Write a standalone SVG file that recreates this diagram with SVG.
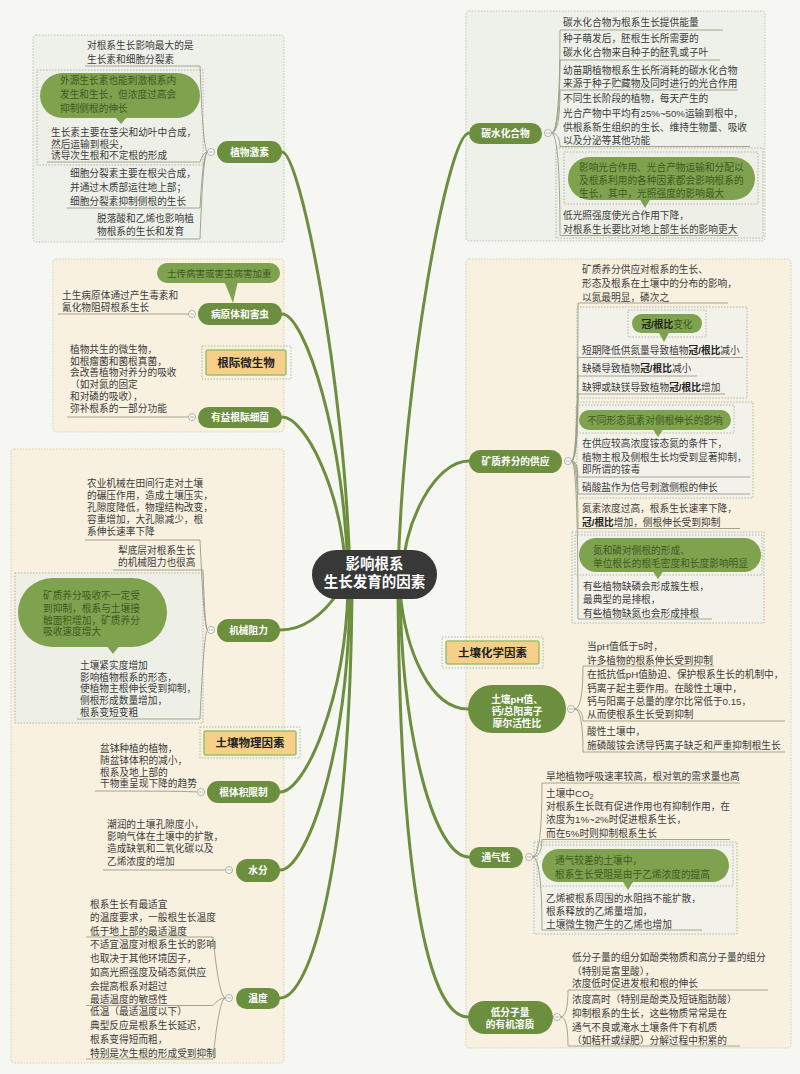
<svg xmlns="http://www.w3.org/2000/svg" width="800" height="1074" viewBox="0 0 800 1074">
<style>
text{font-family:"Liberation Sans","Noto Sans CJK SC",sans-serif}
.t{font-size:9.7px;fill:#3b3b3b}
.bt{font-size:9.7px;fill:#3e5a22}
.pt{font-size:9.7px;font-weight:bold;fill:#fff;text-anchor:middle}
.lb{font-size:11.5px;font-weight:bold;fill:#222;text-anchor:middle}
.ct{font-size:14.5px;font-weight:bold;fill:#fff;text-anchor:middle}
.b{font-weight:bold;fill:#222}
.pill{fill:#6c8f3f}
.bub{fill:#7ea24e}
.ul{stroke:#9a9c84;fill:none;stroke-width:0.9}
.con{stroke:#6c8f3f;stroke-width:3;fill:none;stroke-linecap:round}
.boxg{fill:#eef1ea;stroke:#b6bea9;stroke-width:0.9;stroke-dasharray:1.5 1.5}
.boxc{fill:#f8f1e0;stroke:#d3cba8;stroke-width:0.9;stroke-dasharray:1.5 1.5}
.inb{fill:#eef0e8;stroke:#aab19c;stroke-width:0.9;stroke-dasharray:1.5 1.5}
.inc{fill:#f3f2ea;stroke:#aab19c;stroke-width:0.9;stroke-dasharray:1.5 1.5}
.dot{fill:none;stroke:#a8b29a;stroke-width:0.9;stroke-dasharray:1.5 1.5}
.lbl{fill:#f6cf88;stroke:#9dc06e;stroke-width:1.5}
.cc{fill:#fff;stroke:#9a9a8a;stroke-width:0.8}
.cm{stroke:#9a9a8a;stroke-width:0.8}
</style>
<rect x="0" y="0" width="800" height="1074" fill="#f6f7f3"/>

<g id="regions">
<rect class="boxg" x="33" y="35" width="251" height="207" rx="3"/>
<rect class="boxc" x="53" y="259" width="231" height="173" rx="3"/>
<rect class="boxc" x="11" y="449" width="273" height="614" rx="3"/>
<rect class="boxg" x="466" y="11" width="299" height="230" rx="3"/>
<rect class="boxc" x="466" y="259" width="325" height="789" rx="3"/>
</g>

<g id="connectors">
<path class="con" d="M350,575 C345,380 300,152 282,152"/>
<path class="con" d="M348,575 C345,440 305,314 282,314"/>
<path class="con" d="M346,575 C342,490 305,417 282,417"/>
<path class="con" d="M340,590 C320,620 300,630 280,630"/>
<path class="con" d="M348,590 C345,700 305,792 280,792"/>
<path class="con" d="M350,590 C348,760 305,870 280,870"/>
<path class="con" d="M352,590 C350,870 310,998 280,998"/>
<path class="con" d="M398,575 C403,380 448,133 469,133"/>
<path class="con" d="M402,575 C405,520 435,461 469,461"/>
<path class="con" d="M400,590 C405,650 430,709 468,709"/>
<path class="con" d="M400,590 C402,740 435,857 469,857"/>
<path class="con" d="M398,590 C400,890 430,1017 468,1017"/>
</g>

<g id="n-center">
<rect x="312" y="550" width="125" height="49" rx="24.5" fill="#383838"/>
<text class="ct" x="374.5" y="569">影响根系</text>
<text class="ct" x="374.5" y="587">生长发育的因素</text>
</g>

<g id="n-hormone">
<rect class="inb" x="37" y="70" width="166" height="95"/>
<rect class="bub" x="40" y="73" width="160" height="45" rx="22.5"/>
<polygon class="bub" points="114,116 128,116 121,124"/>
<text class="bt" x="60" y="84">外源生长素也能刺激根系内</text>
<text class="bt" x="60" y="98">发生和生长，但浓度过高会</text>
<text class="bt" x="60" y="112">抑制侧根的伸长</text>
<text class="t" x="87" y="48.5">对根系生长影响最大的是</text>
<text class="t" x="87" y="62.5">生长素和细胞分裂素</text>
<text class="t" x="51" y="135.5">生长素主要在茎尖和幼叶中合成，</text>
<text class="t" x="51" y="147.5">然后运输到根尖，</text>
<text class="t" x="51" y="159">诱导次生根和不定根的形成</text>
<text class="t" x="70" y="177">细胞分裂素主要在根尖合成，</text>
<text class="t" x="70" y="191">并通过木质部运往地上部；</text>
<text class="t" x="70" y="205">细胞分裂素抑制侧根的生长</text>
<text class="t" x="97" y="222">脱落酸和乙烯也影响植</text>
<text class="t" x="97" y="235">物根系的生长和发育</text>
<path class="ul" d="M85,66 H200 Q203,152 207.5,152"/>
<path class="ul" d="M47,162 H200 Q203,152 207.5,152"/>
<path class="ul" d="M67,208 H200 Q203,152 207.5,152"/>
<path class="ul" d="M95,239 H200 Q203,152 207.5,152"/>
<circle class="cc" cx="211" cy="152" r="3.5"/><line class="cm" x1="209" y1="152" x2="213" y2="152"/>
<rect class="pill" x="217" y="141" width="65" height="22" rx="11"/>
<text class="pt" x="249.5" y="155.5">植物激素</text>
</g>

<g id="n-pest">
<rect class="bub" x="157" y="263" width="123" height="20" rx="10"/>
<polygon class="bub" points="224,281 238,281 233,303"/>
<text class="bt" x="167" y="276.5" style="font-size:9.5px">土传病害或害虫病害加重</text>
<text class="t" x="62" y="298.5">土生病原体通过产生毒素和</text>
<text class="t" x="62" y="310.5">氰化物阻碍根系生长</text>
<path class="ul" d="M58,314 H188.5"/>
<circle class="cc" cx="192" cy="314" r="3.5"/><line class="cm" x1="190" y1="314" x2="194" y2="314"/>
<rect class="pill" x="198" y="303" width="84" height="22" rx="11"/>
<text class="pt" x="240" y="317.5">病原体和害虫</text>
</g>

<g id="n-rhizo">
<rect class="dot" x="202" y="346" width="89" height="33"/>
<rect class="lbl" x="206" y="350" width="80" height="25" rx="2"/>
<text class="lb" x="246" y="366.5">根际微生物</text>
</g>

<g id="n-bacteria">
<text class="t" x="70" y="353">植物共生的微生物，</text>
<text class="t" x="70" y="364.5">如根瘤菌和菌根真菌，</text>
<text class="t" x="70" y="376">会改善植物对养分的吸收</text>
<text class="t" x="70" y="388">（如对氮的固定</text>
<text class="t" x="70" y="400">和对磷的吸收），</text>
<text class="t" x="70" y="411.5">弥补根系的一部分功能</text>
<path class="ul" d="M67,417 H188.5"/>
<circle class="cc" cx="192" cy="417" r="3.5"/><line class="cm" x1="190" y1="417" x2="194" y2="417"/>
<rect class="pill" x="198" y="407" width="84" height="21" rx="10.5"/>
<text class="pt" x="240" y="421">有益根际细菌</text>
</g>

<g id="n-mech">
<text class="t" x="87" y="487">农业机械在田间行走对土壤</text>
<text class="t" x="87" y="499">的碾压作用，造成土壤压实，</text>
<text class="t" x="87" y="510.5">孔隙度降低，物理结构改变，</text>
<text class="t" x="87" y="523">容重增加，大孔隙减少，根</text>
<text class="t" x="87" y="534.5">系伸长速率下降</text>
<text class="t" x="118" y="554">犁底层对根系生长</text>
<text class="t" x="118" y="565.5">的机械阻力也很高</text>
<rect class="inb" x="15" y="573" width="188" height="150"/>
<rect class="bub" x="18" y="578" width="149" height="69" rx="34.5"/>
<polygon class="bub" points="106,645 120,645 113,654"/>
<text class="bt" x="43" y="599">矿质养分吸收不一定受</text>
<text class="bt" x="43" y="612">到抑制，根系与土壤接</text>
<text class="bt" x="43" y="623.5">触面积增加，矿质养分</text>
<text class="bt" x="43" y="635">吸收速度增大</text>
<text class="t" x="80" y="669">土壤紧实度增加</text>
<text class="t" x="80" y="680.5">影响植物根系的形态，</text>
<text class="t" x="80" y="692">使植物主根伸长受到抑制，</text>
<text class="t" x="80" y="704">侧根形成数量增加，</text>
<text class="t" x="80" y="715.5">根系变短变粗</text>
<path class="ul" d="M85,540 H200 Q204,630 207.5,630"/>
<path class="ul" d="M113,570 H203 Q205,630 207.5,630"/>
<path class="ul" d="M77,719 H200 Q204,630 207.5,630"/>
<circle class="cc" cx="211" cy="630" r="3.5"/><line class="cm" x1="209" y1="630" x2="213" y2="630"/>
<rect class="pill" x="217" y="619" width="63" height="23" rx="11.5"/>
<text class="pt" x="248.5" y="634">机械阻力</text>
</g>

<g id="n-physical">
<rect class="dot" x="200" y="727" width="100" height="31"/>
<rect class="lbl" x="204" y="731" width="92" height="24" rx="2"/>
<text class="lb" x="250" y="747">土壤物理因素</text>
</g>

<g id="n-volume">
<text class="t" x="100" y="752">盆钵种植的植物，</text>
<text class="t" x="100" y="764">随盆钵体积的减小，</text>
<text class="t" x="100" y="775.5">根系及地上部的</text>
<text class="t" x="100" y="786.5">干物重呈现下降的趋势</text>
<path class="ul" d="M95,791 Q190,791 197.5,792"/>
<circle class="cc" cx="201" cy="792" r="3.5"/><line class="cm" x1="199" y1="792" x2="203" y2="792"/>
<rect class="pill" x="207" y="781" width="73" height="22" rx="11"/>
<text class="pt" x="243.5" y="795.5">根体积限制</text>
</g>

<g id="n-water">
<text class="t" x="107" y="828">潮润的土壤孔隙度小，</text>
<text class="t" x="107" y="840">影响气体在土壤中的扩散，</text>
<text class="t" x="107" y="852">造成缺氧和二氧化碳以及</text>
<text class="t" x="107" y="864.5">乙烯浓度的增加</text>
<path class="ul" d="M103,870 H225.5"/>
<circle class="cc" cx="229" cy="870" r="3.5"/><line class="cm" x1="227" y1="870" x2="231" y2="870"/>
<rect class="pill" x="236" y="859" width="44" height="23" rx="11.5"/>
<text class="pt" x="258" y="874">水分</text>
</g>

<g id="n-temp">
<text class="t" x="90" y="908">根系生长有最适宜</text>
<text class="t" x="90" y="921">的温度要求，一般根生长温度</text>
<text class="t" x="90" y="934.5">低于地上部的最适温度</text>
<text class="t" x="90" y="948">不适宜温度对根系生长的影响</text>
<text class="t" x="90" y="962">也取决于其他环境因子，</text>
<text class="t" x="90" y="975.5">如高光照强度及硝态氮供应</text>
<text class="t" x="90" y="989.5">会提高根系对超过</text>
<text class="t" x="90" y="1003">最适温度的敏感性</text>
<text class="t" x="90" y="1014.5">低温（最适温度以下）</text>
<text class="t" x="90" y="1029">典型反应是根系生长延迟，</text>
<text class="t" x="90" y="1043">根系变得短而粗，</text>
<text class="t" x="90" y="1056.5">特别是次生根的形成受到抑制</text>
<path class="ul" d="M86,937 H213 Q219,998 225.5,998"/>
<path class="ul" d="M86,1005.5 H213 Q219,998 225.5,998"/>
<path class="ul" d="M86,1059 H213 Q219,998 225.5,998"/>
<circle class="cc" cx="229" cy="998" r="3.5"/><line class="cm" x1="227" y1="998" x2="231" y2="998"/>
<rect class="pill" x="236" y="988" width="44" height="21" rx="10.5"/>
<text class="pt" x="258" y="1002">温度</text>
</g>

<g id="n-carb">
<text class="t" x="563" y="25.5">碳水化合物为根系生长提供能量</text>
<text class="t" x="563" y="42">种子萌发后，胚根生长所需要的</text>
<text class="t" x="563" y="56">碳水化合物来自种子的胚乳或子叶</text>
<text class="t" x="563" y="74">幼苗期植物根系生长所消耗的碳水化合物</text>
<text class="t" x="563" y="87">来源于种子贮藏物及同时进行的光合作用</text>
<text class="t" x="563" y="102">不同生长阶段的植物，每天产生的</text>
<text class="t" x="563" y="116.5">光合产物中平均有25%~50%运输到根中，</text>
<text class="t" x="563" y="130.5">供根系新生组织的生长、维持生物量、吸收</text>
<text class="t" x="563" y="144">以及分泌等其他功能</text>
<rect class="inb" x="556" y="148" width="207" height="90"/>
<rect class="dot" x="564" y="152" width="194" height="52"/>
<rect class="bub" x="568" y="157" width="187" height="43" rx="21.5"/>
<polygon class="bub" points="639,198 651,198 645,208"/>
<text class="bt" x="579" y="170.5">影响光合作用、光合产物运输和分配以</text>
<text class="bt" x="579" y="184">及根系利用的各种因素都会影响根系的</text>
<text class="bt" x="579" y="197">生长，其中，光照强度的影响最大</text>
<text class="t" x="563" y="219">低光照强度使光合作用下降，</text>
<text class="t" x="563" y="233">对根系生长要比对地上部生长的影响更大</text>
<path class="ul" d="M551.5,133 Q560,133 560,30 H723"/>
<path class="ul" d="M551.5,133 Q560,133 560,60 H720"/>
<path class="ul" d="M551.5,133 Q560,133 560,90 H738"/>
<path class="ul" d="M551.5,133 Q560,133 560,146.5 H750"/>
<path class="ul" d="M551.5,133 Q560,133 560,235.5 H738"/>
<circle class="cc" cx="548" cy="133" r="3.5"/><line class="cm" x1="546" y1="133" x2="550" y2="133"/>
<rect class="pill" x="469" y="123" width="73" height="21" rx="10.5"/>
<text class="pt" x="505.5" y="137">碳水化合物</text>
</g>

<g id="n-mineral">
<text class="t" x="582" y="273">矿质养分供应对根系的生长、</text>
<text class="t" x="582" y="287">形态及根系在土壤中的分布的影响，</text>
<text class="t" x="582" y="300.5">以氮最明显，磷次之</text>
<rect class="inc" x="577" y="307" width="170" height="91"/>
<rect class="dot" x="628" y="310" width="78" height="27"/>
<rect class="bub" x="632" y="314" width="70" height="19" rx="9.5"/>
<polygon class="bub" points="658,331 670,331 664,342"/>
<text class="bt" x="667" y="327.5" text-anchor="middle"><tspan class="b">冠/根比</tspan>变化</text>
<text class="t" x="582" y="354">短期降低供氮量导致植物<tspan class="b">冠/根比</tspan>减小</text>
<text class="t" x="582" y="372">缺磷导致植物<tspan class="b">冠/根比</tspan>减小</text>
<text class="t" x="582" y="390.5">缺钾或缺镁导致植物<tspan class="b">冠/根比</tspan>增加</text>
<rect class="inc" x="577" y="402" width="176" height="96"/>
<rect class="dot" x="576" y="405" width="158" height="28"/>
<rect class="bub" x="579" y="410" width="152" height="20" rx="10"/>
<polygon class="bub" points="652,428 664,428 658,437"/>
<text class="bt" x="655" y="423.5" text-anchor="middle">不同形态氮素对侧根伸长的影响</text>
<text class="t" x="582" y="446.5">在供应较高浓度铵态氮的条件下，</text>
<text class="t" x="582" y="460.5">植物主根及侧根生长均受到显著抑制，</text>
<text class="t" x="582" y="473">即所谓的铵毒</text>
<text class="t" x="582" y="490.5">硝酸盐作为信号刺激侧根的伸长</text>
<text class="t" x="582" y="512">氮素浓度过高，根系生长速率下降，</text>
<text class="t" x="582" y="525.5"><tspan class="b">冠/根比</tspan>增加，侧根伸长受到抑制</text>
<rect class="inc" x="572" y="532" width="192" height="91"/>
<rect class="dot" x="575" y="535" width="187" height="40"/>
<rect class="bub" x="579" y="538" width="182" height="34" rx="17"/>
<polygon class="bub" points="652,570 664,570 658,579"/>
<text class="bt" x="593" y="554">氮和磷对侧根的形成、</text>
<text class="bt" x="593" y="567">单位根长的根毛密度和长度影响明显</text>
<text class="t" x="583" y="590">有些植物缺磷会形成簇生根，</text>
<text class="t" x="583" y="603">最典型的是排根，</text>
<text class="t" x="583" y="616.5">有些植物缺氮也会形成排根</text>
<path class="ul" d="M571.5,461 Q578,461 578,303 H728"/>
<path class="ul" d="M571.5,461 Q578,461 578,357.5 H743"/>
<path class="ul" d="M571.5,461 Q578,461 578,376 H697"/>
<path class="ul" d="M571.5,461 Q578,461 578,394 H725"/>
<path class="ul" d="M571.5,461 Q578,461 578,477 H750"/>
<path class="ul" d="M571.5,461 Q578,461 578,494 H750"/>
<path class="ul" d="M571.5,461 Q578,461 578,528.5 H740"/>
<path class="ul" d="M571.5,461 Q578,461 578,619 H712"/>
<circle class="cc" cx="568" cy="461" r="3.5"/><line class="cm" x1="566" y1="461" x2="570" y2="461"/>
<rect class="pill" x="469" y="450" width="93" height="23" rx="11.5"/>
<text class="pt" x="515.5" y="465">矿质养分的供应</text>
</g>

<g id="n-chemical">
<rect class="dot" x="442" y="637" width="101" height="31"/>
<rect class="lbl" x="446" y="641" width="93" height="23" rx="2"/>
<text class="lb" x="492.5" y="656.5">土壤化学因素</text>
</g>

<g id="n-ph">
<text class="t" x="587" y="650">当pH值低于5时，</text>
<text class="t" x="587" y="663.5">许多植物的根系伸长受到抑制</text>
<text class="t" x="587" y="678">在抵抗低pH值胁迫、保护根系生长的机制中，</text>
<text class="t" x="587" y="691.5">钙离子起主要作用。在酸性土壤中，</text>
<text class="t" x="587" y="705">钙与阳离子总量的摩尔比常低于0.15，</text>
<text class="t" x="587" y="718">从而使根系生长受到抑制</text>
<text class="t" x="587" y="735">酸性土壤中，</text>
<text class="t" x="587" y="749">施磷酸铵会诱导钙离子缺乏和严重抑制根生长</text>
<path class="ul" d="M574.5,709 Q583,709 583,666 H714"/>
<path class="ul" d="M574.5,709 Q583,709 583,721 H785"/>
<path class="ul" d="M574.5,709 Q583,709 583,752 H785"/>
<circle class="cc" cx="571" cy="709" r="3.5"/><line class="cm" x1="569" y1="709" x2="573" y2="709"/>
<rect class="pill" x="468" y="685" width="98" height="48" rx="24"/>
<text class="pt" x="517" y="702.5">土壤pH值、</text>
<text class="pt" x="517" y="714.5">钙/总阳离子</text>
<text class="pt" x="517" y="726.5">摩尔活性比</text>
</g>

<g id="n-air">
<text class="t" x="546" y="780">旱地植物呼吸速率较高，根对氧的需求量也高</text>
<text class="t" x="546" y="796.5">土壤中CO<tspan font-size="7" dy="2">2</tspan></text>
<text class="t" x="546" y="810">对根系生长既有促进作用也有抑制作用，在</text>
<text class="t" x="546" y="823">浓度为1%~2%时促进根系生长，</text>
<text class="t" x="546" y="836.5">而在5%时则抑制根系生长</text>
<rect class="inc" x="534" y="842" width="203" height="92"/>
<rect class="dot" x="537" y="845" width="196" height="41"/>
<rect class="bub" x="542" y="849" width="187" height="33" rx="16.5"/>
<polygon class="bub" points="622,880 634,880 628,890"/>
<text class="bt" x="555" y="864">通气较差的土壤中，</text>
<text class="bt" x="555" y="878">根系生长受阻是由于乙烯浓度的提高</text>
<text class="t" x="546" y="901.5">乙烯被根系周围的水阻挡不能扩散，</text>
<text class="t" x="546" y="915">根系释放的乙烯量增加，</text>
<text class="t" x="546" y="928">土壤微生物产生的乙烯也增加</text>
<path class="ul" d="M532.5,857 Q542,857 542,783 H740"/>
<path class="ul" d="M532.5,857 Q542,857 542,839.5 H730"/>
<path class="ul" d="M532.5,857 Q542,857 542,930 H702"/>
<circle class="cc" cx="529" cy="857" r="3.5"/><line class="cm" x1="527" y1="857" x2="531" y2="857"/>
<rect class="pill" x="469" y="847" width="54" height="21" rx="10.5"/>
<text class="pt" x="496" y="861">通气性</text>
</g>

<g id="n-organic">
<text class="t" x="572" y="960.5">低分子量的组分如酚类物质和高分子量的组分</text>
<text class="t" x="572" y="974.5">（特别是富里酸），</text>
<text class="t" x="572" y="987">浓度低时促进发根和根的伸长</text>
<text class="t" x="572" y="1003">浓度高时（特别是酚类及短链脂肪酸）</text>
<text class="t" x="572" y="1017">抑制根系的生长，这些物质常常是在</text>
<text class="t" x="572" y="1030.5">通气不良或淹水土壤条件下有机质</text>
<text class="t" x="572" y="1043.5">（如秸秆或绿肥）分解过程中积累的</text>
<path class="ul" d="M560.5,1017 Q568,1017 568,990 H768"/>
<path class="ul" d="M560.5,1017 Q568,1017 568,1046 H740"/>
<circle class="cc" cx="557" cy="1017" r="3.5"/><line class="cm" x1="555" y1="1017" x2="559" y2="1017"/>
<rect class="pill" x="468" y="1001" width="85" height="33" rx="16.5"/>
<text class="pt" x="510" y="1016">低分子量</text>
<text class="pt" x="510" y="1028">的有机溶质</text>
</g>
</svg>
